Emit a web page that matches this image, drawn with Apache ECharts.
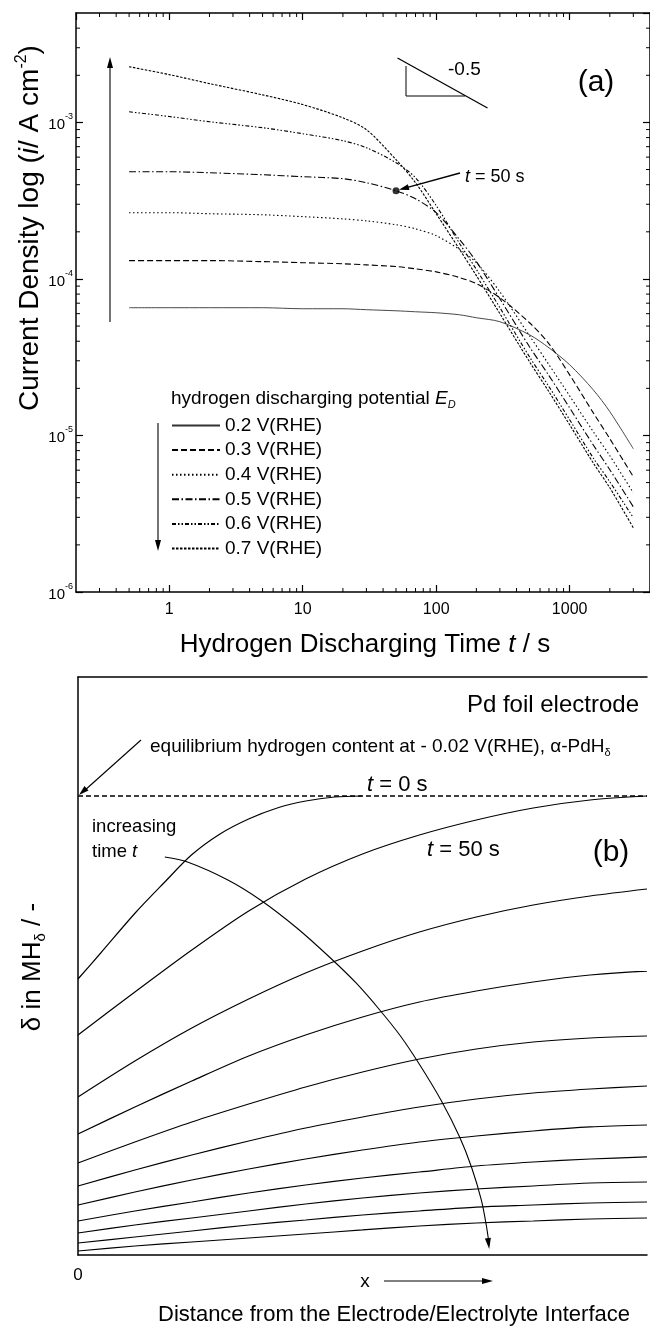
<!DOCTYPE html>
<html><head><meta charset="utf-8">
<script src="https://cdn.jsdelivr.net/npm/echarts@6/dist/echarts.min.js"></script>
<style>html,body{margin:0;padding:0;background:#fff}#c{width:650px;height:1326px}</style>
</head><body><div id="c"></div>
<script>
const FF = "'Liberation Sans', Arial, Helvetica, sans-serif";
// ---------- panel (a) data ----------
const times = [0.5,1,2,5,10,20,30,50,70,100,150,200,300,500,700,1000,1500,2000,3000];
const i02 = [6.55e-5,6.55e-5,6.55e-5,6.55e-5,6.45e-5,6.45e-5,6.36e-5,6.26e-5,6.17e-5,6.08e-5,5.90e-5,5.65e-5,5.33e-5,4.40e-5,3.63e-5,2.83e-5,1.96e-5,1.42e-5,8.22e-6];
const i03 = [1.31e-4,1.31e-4,1.31e-4,1.29e-4,1.27e-4,1.25e-4,1.23e-4,1.20e-4,1.16e-4,1.11e-4,1.02e-4,9.32e-5,7.58e-5,5.25e-5,3.85e-5,2.44e-5,1.40e-5,9.53e-6,5.45e-6];
const i04 = [2.65e-4,2.65e-4,2.61e-4,2.57e-4,2.50e-4,2.42e-4,2.35e-4,2.22e-4,2.09e-4,1.89e-4,1.54e-4,1.27e-4,8.28e-5,4.34e-5,2.83e-5,1.79e-5,1.06e-5,7.42e-6,4.30e-6];
const i05 = [4.84e-4,4.84e-4,4.77e-4,4.63e-4,4.50e-4,4.37e-4,4.12e-4,3.66e-4,3.25e-4,2.65e-4,1.78e-4,1.29e-4,7.47e-5,3.69e-5,2.41e-5,1.50e-5,8.72e-6,6.04e-6,3.50e-6];
const i06 = [1.17e-3,1.09e-3,1.01e-3,9.25e-4,8.47e-4,7.64e-4,6.89e-4,5.53e-4,4.43e-4,2.94e-4,1.68e-4,1.15e-4,6.55e-5,3.18e-5,2.05e-5,1.26e-5,7.20e-6,5.06e-6,2.98e-6];
const i07 = [2.27e-3,2.02e-3,1.77e-3,1.50e-3,1.30e-3,1.07e-3,8.98e-4,5.78e-4,4.12e-4,2.61e-4,1.54e-4,1.05e-4,6.0e-5,2.96e-5,1.90e-5,1.17e-5,6.69e-6,4.63e-6,2.57e-6];
const potentials = ['0.2 V(RHE)','0.3 V(RHE)','0.4 V(RHE)','0.5 V(RHE)','0.6 V(RHE)','0.7 V(RHE)'];
const dot50 = [50, 3.66e-4];
const xTickLabels = ['1','10','100','1000'];
const minorX = [0.3,0.4,0.5,0.6,0.7,0.8,0.9,2,3,4,5,6,7,8,9,20,30,40,50,60,70,80,90,200,300,400,500,600,700,800,900,2000,3000];
const minorY = [2e-6,3e-6,4e-6,5e-6,6e-6,7e-6,8e-6,9e-6,2e-5,3e-5,4e-5,5e-5,6e-5,7e-5,8e-5,9e-5,2e-4,3e-4,4e-4,5e-4,6e-4,7e-4,8e-4,9e-4,2e-3,3e-3,4e-3];
// ---------- panel (b) data (schematic, normalized depth / content) ----------
const t0line = [[0,0.7941],[1,0.7941]];
const xb = [0,0.1,0.2,0.3,0.4,0.5,0.6,0.7,0.8,0.9,1.0];
const c1x = [0,0.0399,0.1005,0.1525,0.1993,0.2496,0.2998,0.3501,0.4003,0.4506,0.4991];
const c1y = [0.4775,0.5225,0.5917,0.6453,0.692,0.7284,0.7543,0.7734,0.7855,0.7924,0.7941];
const c2 = [0.3806,0.455,0.5277,0.5952,0.6505,0.6938,0.7266,0.7526,0.7734,0.7872,0.7941];
const c3 = [0.2734,0.3356,0.3927,0.4429,0.4879,0.526,0.5588,0.5848,0.6055,0.6211,0.6332];
const c4 = [0.2093,0.2561,0.301,0.3443,0.3806,0.4118,0.4377,0.4567,0.4723,0.4844,0.4913];
const c5 = [0.1592,0.1955,0.2301,0.2612,0.2907,0.3166,0.3391,0.3564,0.3685,0.3754,0.3789];
const c6 = [0.1194,0.1471,0.173,0.1972,0.2197,0.2388,0.2561,0.2699,0.2803,0.2872,0.2924];
const c7 = [0.0865,0.109,0.1298,0.1488,0.1661,0.1817,0.1955,0.2059,0.2145,0.2215,0.2249];
const c8 = [0.0588,0.0761,0.0917,0.1073,0.1211,0.1332,0.1436,0.154,0.1609,0.1661,0.1696];
const c9 = [0.0381,0.0519,0.064,0.0761,0.0882,0.0986,0.1073,0.1142,0.1194,0.1246,0.1263];
const c10 = [0.0208,0.0311,0.0415,0.0519,0.0606,0.0692,0.0761,0.083,0.0865,0.09,0.0917];
const c11 = [0.0069,0.0156,0.0225,0.0294,0.0363,0.0433,0.0502,0.0554,0.0588,0.0623,0.064];
const arcX = [0.1525,0.1924,0.2634,0.3206,0.3847,0.4437,0.4887,0.5303,0.5667,0.5997,0.6378,0.6707,0.6915,0.7088,0.7175,0.7227];
const arcY = [0.6886,0.6799,0.6488,0.6142,0.5657,0.5138,0.4706,0.4239,0.3789,0.3304,0.2682,0.2042,0.1522,0.0952,0.0519,0.0173];

const chart = echarts.init(document.getElementById('c'), null, {renderer:'canvas'});
const pair = (ys) => times.map((t,k)=>[t, ys[k]]);
const zip = (xs, ys) => xs.map((x,k)=>[x, ys[k]]);
const dashes = ['solid',[6,3],[1.5,2.5],[7,2.5,1.5,2.5],[4,2,1.5,2,1.5,2],[2.5,1.5]];
const curvesA = [i02,i03,i04,i05,i06,i07];
const seriesA = curvesA.map((ys,k)=>({
  name: potentials[k], type:'line', xAxisIndex:0, yAxisIndex:0, data: pair(ys),
  symbol:'none', smooth:0.3, silent:true,
  itemStyle:{color:'#000'},
  lineStyle:{color: k===0 ? '#333' : '#000', width: k===0 ? 0.9 : 1.1, type: dashes[k]}
}));
const tickSeries = [
  {type:'custom', xAxisIndex:0, yAxisIndex:0, silent:true, data: minorX.map(v=>[v,1e-6]),
   renderItem:(p,api)=>{const b=api.coord([api.value(0),1e-6]); const t=api.coord([api.value(0),5e-3]);
     return {type:'group',children:[
       {type:'line',shape:{x1:b[0],y1:b[1],x2:b[0],y2:b[1]-4},style:{stroke:'#000',lineWidth:1}},
       {type:'line',shape:{x1:t[0],y1:t[1],x2:t[0],y2:t[1]+4},style:{stroke:'#000',lineWidth:1}}]};}},
  {type:'custom', xAxisIndex:0, yAxisIndex:0, silent:true, data: minorY.map(v=>[0.2,v]),
   renderItem:(p,api)=>{const l=api.coord([0.2,api.value(1)]); const r=api.coord([4000,api.value(1)]);
     return {type:'group',children:[
       {type:'line',shape:{x1:l[0],y1:l[1],x2:l[0]+4,y2:l[1]},style:{stroke:'#000',lineWidth:1}},
       {type:'line',shape:{x1:r[0],y1:r[1],x2:r[0]-4,y2:r[1]},style:{stroke:'#000',lineWidth:1}}]};}}
];
const bLine = (d, extra) => Object.assign({type:'line', xAxisIndex:2, yAxisIndex:2, data:d, symbol:'none', smooth:0.3, silent:true,
  lineStyle:{color:'#000', width:1.2}}, extra||{});
const seriesB = [
  bLine(t0line, {smooth:false, lineStyle:{color:'#000', width:1.4, type:[5,3]}}),
  bLine(zip(c1x,c1y))
].concat([c2,c3,c4,c5,c6,c7,c8,c9,c10,c11].map(ys=>bLine(zip(xb,ys))), [
  bLine(zip(arcX,arcY), {lineStyle:{color:'#000', width:1.1}})
]);
const axBlack = {lineStyle:{color:'#000', width:1.5}};
const option = {
  animation:false,
  backgroundColor:'#fff',
  grid:[
    {left:76, top:13, width:578, height:579, show:false},
    {left:78, top:677, width:577, height:578, show:false}
  ],
  legend:{data:potentials, orient:'vertical', left:171, top:416, padding:0, itemWidth:48, itemHeight:14, itemGap:5.6,
    itemStyle:{opacity:0}, textStyle:{fontSize:19, color:'#000', fontFamily:FF, lineHeight:18}, selectedMode:false},
  xAxis:[
    {gridIndex:0, type:'log', logBase:10, min:0.2, max:4000, position:'bottom', axisLine:axBlack,
     axisTick:{inside:true, length:7, lineStyle:{color:'#000', width:1.2}},
     axisLabel:{fontSize:16, color:'#000', fontFamily:FF, margin:10, showMinLabel:false, showMaxLabel:false,
       formatter:(v)=>{const e=Math.round(Math.log10(v)); return (e>=0 && e<xTickLabels.length)? xTickLabels[e] : '';}},
     splitLine:{show:false}},
    {gridIndex:0, type:'log', logBase:10, min:0.2, max:4000, position:'top', axisLine:axBlack,
     axisTick:{inside:true, length:7, lineStyle:{color:'#000', width:1.2}}, axisLabel:{show:false}, splitLine:{show:false}},
    {gridIndex:1, type:'value', min:0, max:1, interval:1, position:'bottom', axisLine:axBlack, axisTick:{show:false},
     axisLabel:{fontSize:17, color:'#000', fontFamily:FF, margin:12, formatter:(v)=> v===0 ? '0' : ''}, splitLine:{show:false}},
    {gridIndex:1, type:'value', min:0, max:1, position:'top', axisLine:axBlack, axisTick:{show:false}, axisLabel:{show:false}, splitLine:{show:false}}
  ],
  yAxis:[
    {gridIndex:0, type:'log', logBase:10, min:1e-6, max:5e-3, position:'left', axisLine:axBlack,
     axisTick:{inside:true, length:7, lineStyle:{color:'#000', width:1.2}},
     axisLabel:{margin:3, showMaxLabel:false, color:'#000', fontFamily:FF,
       formatter:(v)=>'{b|10}{s|'+Math.round(Math.log10(v))+'}',
       rich:{b:{fontSize:15, fontFamily:FF, color:'#000', lineHeight:20, verticalAlign:'bottom'},
             s:{fontSize:9, fontFamily:FF, color:'#000', lineHeight:20, verticalAlign:'top'}}},
     splitLine:{show:false}},
    {gridIndex:0, type:'log', logBase:10, min:1e-6, max:5e-3, position:'right', axisLine:axBlack,
     axisTick:{inside:true, length:7, lineStyle:{color:'#000', width:1.2}}, axisLabel:{show:false}, splitLine:{show:false}},
    {gridIndex:1, type:'value', min:0, max:1, axisLine:axBlack, axisTick:{show:false}, axisLabel:{show:false}, splitLine:{show:false}}
  ],
  series: seriesA.concat([
    {type:'scatter', xAxisIndex:0, yAxisIndex:0, data:[dot50], symbol:'circle', symbolSize:7, itemStyle:{color:'#000'}, silent:true}
  ], tickSeries, seriesB)
};
chart.setOption(option);

// ---------- annotations ----------
function txt(x,y,text,size,opts){
  opts = opts||{};
  const rich = {};
  const baseRich = opts.rich||{};
  Object.keys(baseRich).forEach(k=>{rich[k]=Object.assign({fontSize:size, fontFamily:FF, fill:'#000', lineHeight:size*1.2}, baseRich[k]);});
  return {type:'text', x:x, y:y, rotation:opts.rot||0, silent:true,
    style:{text:text, fill:'#000', fontSize:size, fontFamily:FF, align:opts.align||'left', verticalAlign:'middle', rich:rich}};
}
function line(x1,y1,x2,y2,w){return {type:'line', silent:true, shape:{x1,y1,x2,y2}, style:{stroke:'#000', lineWidth:w||1}};}
function head(tx,ty,fx,fy,len,half){
  const dx=tx-fx, dy=ty-fy, L=Math.hypot(dx,dy), ux=dx/L, uy=dy/L;
  const bx=tx-ux*len, by=ty-uy*len;
  return {type:'polygon', silent:true, shape:{points:[[tx,ty],[bx-uy*half,by+ux*half],[bx+uy*half,by-ux*half]]}, style:{fill:'#000'}};
}
const dp = chart.convertToPixel({xAxisIndex:0, yAxisIndex:0}, dot50);
const ae = chart.convertToPixel({xAxisIndex:2, yAxisIndex:2}, [arcX[arcX.length-1], arcY[arcY.length-1]]);
const ap = chart.convertToPixel({xAxisIndex:2, yAxisIndex:2}, [arcX[arcX.length-2], arcY[arcY.length-2]]);
const itR = {i:{fontStyle:'italic'}, n:{}};
const graphics = [
  // (a)
  line(110,322,110,66,1.1), head(110,57,110,70,11,3),
  line(397.5,58,487.5,108,1.3), {type:'polyline', silent:true, shape:{points:[[406,66],[406,96],[465,96]]}, style:{stroke:'#000', lineWidth:1, fill:null}},
  txt(448,70,'-0.5',19),
  txt(596,83,'(a)',30,{align:'center'}),
  txt(465,177,'{i|t}{n| = 50 s}',18,{rich:itR}),
  line(460,173,dp[0]+7,dp[1]-2,1.3), head(dp[0]+3,dp[1]-1,460,173,10,3),
  line(158,423,158,542,1.1), head(158,551,158,540,11,3),
  txt(171,399,'{n|hydrogen discharging potential }{i|E}{d|D}',19,{rich:{n:{}, i:{fontStyle:'italic'}, d:{fontStyle:'italic', fontSize:11, verticalAlign:'bottom'}}}),
  txt(365,645,'{n|Hydrogen Discharging Time }{i|t}{n| / s}',26,{align:'center', rich:itR}),
  txt(30,228,'{n|Current Density log (}{i|i}{n|/ A cm}{s|-2}{n|)}',28,{align:'center', rot:Math.PI/2,
    rich:{n:{}, i:{fontStyle:'italic'}, s:{fontSize:16, verticalAlign:'top'}}}),
  // (b)
  txt(639,705,'Pd foil electrode',24,{align:'right'}),
  txt(150,747,'{n|equilibrium hydrogen content at - 0.02 V(RHE), α-PdH}{d|δ}',19,{rich:{n:{}, d:{fontSize:11, verticalAlign:'bottom'}}}),
  line(141,740,84,791,1.1), head(79,795,141,740,10,3),
  txt(367,785,'{i|t}{n| = 0 s}',22,{rich:itR}),
  txt(427,850,'{i|t}{n| = 50 s}',22,{rich:itR}),
  txt(611,853,'(b)',30,{align:'center'}),
  txt(92,827,'increasing',18.5),
  txt(92,852,'{n|time }{i|t}',18.5,{rich:itR}),
  head(ae[0],ae[1]+4,ap[0],ap[1],11,3),
  txt(33,967,'{n|δ in MH}{d|δ}{n| / -}',26,{align:'center', rot:Math.PI/2, rich:{n:{}, d:{fontSize:15, verticalAlign:'bottom'}}}),
  txt(365,1282,'x',19,{align:'center'}),
  line(384,1281,484,1281,1.1), head(493,1281,480,1281,11,3),
  txt(394,1315,'Distance from the Electrode/Electrolyte Interface',22,{align:'center'})
];
chart.setOption({graphic: graphics});
</script></body></html>
